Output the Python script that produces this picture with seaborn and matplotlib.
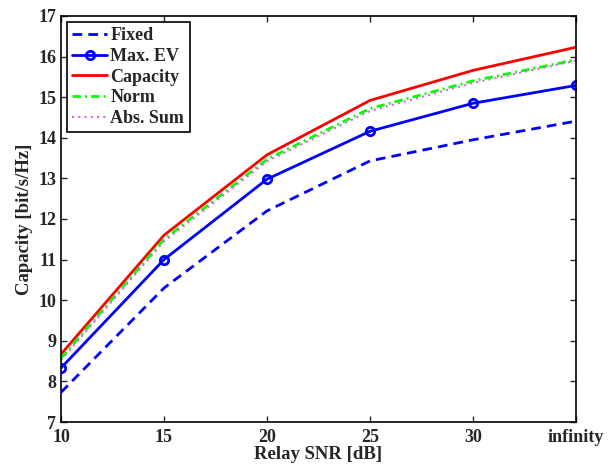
import matplotlib
matplotlib.use("Agg")
import matplotlib.pyplot as plt
import pandas as pd
import seaborn as sns

# x categories (relay SNR) and capacity curves
snr_labels = ["10", "15", "20", "25", "30", "infinity"]
fixed = [7.73, 10.3, 12.2, 13.43, 13.95, 14.41]
max_ev = [8.33, 11.0, 12.98, 14.16, 14.85, 15.29]
capacity = [8.67, 11.6, 13.58, 14.92, 15.66, 16.23]
norm = [8.57, 11.5, 13.47, 14.72, 15.4, 15.92]
abs_sum = [8.52, 11.45, 13.42, 14.66, 15.35, 15.9]

sns.set_style("ticks")
plt.rcParams["font.family"] = ["Liberation Serif", "DejaVu Serif"]
plt.rcParams["font.weight"] = "bold"
plt.rcParams["xtick.direction"] = "in"
plt.rcParams["ytick.direction"] = "in"

pos = list(range(len(snr_labels)))
df = pd.DataFrame({
    "pos": pos,
    "Fixed": fixed,
    "Max. EV": max_ev,
    "Capacity": capacity,
    "Norm": norm,
    "Abs. Sum": abs_sum,
})

fig = plt.figure(figsize=(6.14, 4.66), dpi=100)
ax = fig.add_axes([0.0993, 0.0944, 0.8387, 0.8713])

sns.lineplot(data=df, x="pos", y="Fixed", ax=ax, color="#0000ff",
             linestyle=(0, (3.5, 2.2)), linewidth=2, label="Fixed")
sns.lineplot(data=df, x="pos", y="Max. EV", ax=ax, color="#0000ff",
             linewidth=2, marker="o", markersize=6, markerfacecolor="none",
             markeredgecolor="#0000ff", markeredgewidth=2, label="Max. EV")
sns.lineplot(data=df, x="pos", y="Capacity", ax=ax, color="#ff0000",
             linewidth=2, label="Capacity")
sns.lineplot(data=df, x="pos", y="Norm", ax=ax, color="#00ff00",
             linestyle=(0, (3, 1.5, 0.7, 1.5)), linewidth=2, label="Norm")
sns.lineplot(data=df, x="pos", y="Abs. Sum", ax=ax, color="#dd66dd",
             linestyle=(0, (1, 2)), linewidth=1.5, label="Abs. Sum")

ax.set_xlim(0, 5)
ax.set_ylim(7, 17)
ax.set_xticks(pos)
ax.set_xticklabels(snr_labels)
ax.set_yticks(range(7, 18))
ax.tick_params(axis="both", labelsize=13, length=4, width=1,
               top=True, right=True)
ax.tick_params(axis="x", pad=5)
ax.tick_params(axis="y", pad=3.5)
for s in ax.spines.values():
    s.set_linewidth(1.2)
    s.set_color("black")

ax.set_xlabel("Relay SNR [dB]", fontsize=13.5, fontweight="bold", labelpad=0)
ax.set_ylabel("Capacity [bit/s/Hz]", fontsize=13.5, fontweight="bold", labelpad=4)

leg = ax.legend(loc="upper left", bbox_to_anchor=(0.0117, 0.985), fontsize=13,
                frameon=True, fancybox=False, borderaxespad=0,
                handlelength=1.9, handletextpad=0.2, labelspacing=0.2,
                borderpad=0.3)
leg.get_frame().set_edgecolor("black")
leg.get_frame().set_linewidth(1.2)
leg.get_frame().set_alpha(1)

fig.savefig("out.png", dpi=100)
plt.close(fig)
